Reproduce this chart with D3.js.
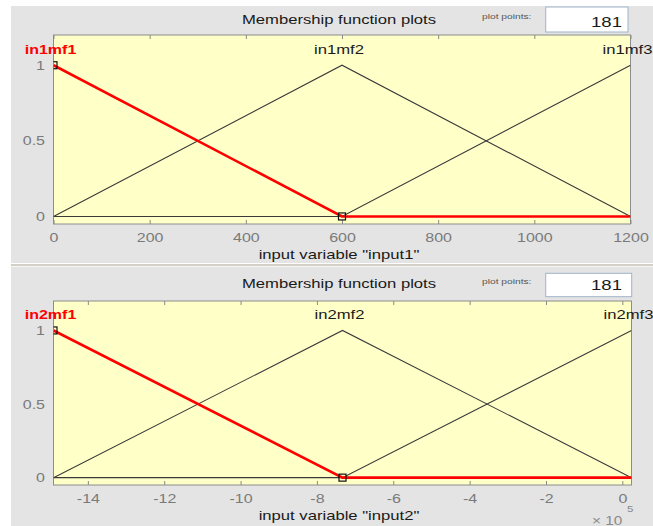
<!DOCTYPE html>
<html>
<head>
<meta charset="utf-8">
<script src="https://cdn.jsdelivr.net/npm/d3@7/dist/d3.min.js"></script>
<style>
  html, body { margin: 0; padding: 0; background: #ffffff; }
  svg { display: block; }
  text { font-family: "Liberation Sans", Arial, sans-serif; }
</style>
</head>
<body>
<svg id="chart" width="653" height="526"></svg>
<script>
// ---- data ----
const plotPoints = 181;
const yTicks = [0, 0.5, 1];
const selectedMF = 0;

const input1Name = "input1";
const input1Range = [0, 1200];
const input1Ticks = [0, 200, 400, 600, 800, 1000, 1200];
const input1MFNames = ["in1mf1", "in1mf2", "in1mf3"];
const input1MFParams = [[-600, 0, 600], [0, 600, 1200], [600, 1200, 1800]];

const input2Name = "input2";
const input2Range = [-14.9, 0.24];          // in units of 10^5
const input2Ticks = [-14, -12, -10, -8, -6, -4, -2, 0];
const input2MFNames = ["in2mf1", "in2mf2", "in2mf3"];
const input2MFParams = [[-22.47, -14.9, -7.33], [-14.9, -7.33, 0.24], [-7.33, 0.24, 7.81]];

// ---- layout ----
const SX = 1.28; // horizontal text stretch of the GUI rendering
const panels = [
  { name: input1Name, range: input1Range, ticks: input1Ticks, names: input1MFNames, params: input1MFParams,
    bg: [6, 263], plot: { x0: 53.5, x1: 630.5, y0: 35, y1: 224 },
    titleY: 24, ppY: 19, box: [545.7, 7, 82.3, 25], numY: 26.5, mfY: 54, axisTitleY: 258.5, exponent: null },
  { name: input2Name, range: input2Range, ticks: input2Ticks, names: input2MFNames, params: input2MFParams,
    bg: [267, 526], plot: { x0: 53.5, x1: 631.5, y0: 301, y1: 485 },
    titleY: 287.5, ppY: 283.5, box: [545.7, 273.3, 86, 23.4], numY: 289.5, mfY: 319, axisTitleY: 519.5, exponent: 5 }
];

const svg = d3.select("#chart");

// separator between the two panels
svg.append("rect").attr("x", 11).attr("y", 263).attr("width", 642).attr("height", 4).attr("fill", "#ffffff");
svg.append("rect").attr("x", 11).attr("y", 264).attr("width", 642).attr("height", 2.2).attr("fill", "#d4d0c8");

function stretchedText(g, x, y, str, o) {
  return g.append("text")
    .attr("transform", `translate(${x},${y}) scale(${o.sx || SX},1)`)
    .attr("text-anchor", o.anchor || "start")
    .attr("font-size", o.size)
    .attr("font-weight", o.weight || "normal")
    .attr("fill", o.fill || "#1a1a1a")
    .text(str);
}

function trimf(x, p) {
  const [a, b, c] = p;
  if (x <= a || x >= c) return (x === b) ? 1 : 0;
  return x <= b ? (x - a) / (b - a) : (c - x) / (c - b);
}

// vertices of a triangular MF within the plotted range
function mfVertices(p, range) {
  const xs = [range[0], range[1], ...p.filter(v => v > range[0] && v < range[1])];
  return Array.from(new Set(xs)).sort((a, b) => a - b).map(x => [x, trimf(x, p)]);
}

const plainNumber = d => String(d);

panels.forEach((P, pi) => {
  const g = svg.append("g");
  g.append("rect").attr("x", 11).attr("y", P.bg[0]).attr("width", 642).attr("height", P.bg[1] - P.bg[0])
    .attr("fill", "#e4e4e4");

  const x = d3.scaleLinear().domain(P.range).range([P.plot.x0, P.plot.x1]);
  const y = d3.scaleLinear().domain([-0.05, 1.2]).range([P.plot.y1, P.plot.y0]);

  // header
  stretchedText(g, 339, P.titleY, "Membership function plots", { size: 13, anchor: "middle" });
  stretchedText(g, 482, P.ppY, "plot points:", { size: 8, fill: "#555" });
  g.append("rect").attr("x", P.box[0]).attr("y", P.box[1]).attr("width", P.box[2]).attr("height", P.box[3])
    .attr("fill", "#ffffff").attr("stroke", "#9fb3c8").attr("stroke-width", 1);
  stretchedText(g, 622, P.numY, String(plotPoints), { size: 14.5, anchor: "end" });

  // plot box
  const clipId = "clip" + pi;
  g.append("clipPath").attr("id", clipId).append("rect")
    .attr("x", P.plot.x0).attr("y", P.plot.y0)
    .attr("width", P.plot.x1 - P.plot.x0).attr("height", P.plot.y1 - P.plot.y0);
  g.append("rect").attr("x", P.plot.x0).attr("y", P.plot.y0)
    .attr("width", P.plot.x1 - P.plot.x0).attr("height", P.plot.y1 - P.plot.y0)
    .attr("fill", "#ffffc8");

  // axes
  const bottom = g.append("g").attr("transform", `translate(0,${P.plot.y1})`)
    .call(d3.axisBottom(x).tickValues(P.ticks).tickSizeInner(-4).tickSizeOuter(0).tickPadding(9)
      .tickFormat(plainNumber));
  const top = g.append("g").attr("transform", `translate(0,${P.plot.y0})`)
    .call(d3.axisTop(x).tickValues(P.ticks).tickSizeInner(-4).tickSizeOuter(0).tickFormat(""));
  const left = g.append("g").attr("transform", `translate(${P.plot.x0},0)`)
    .call(d3.axisLeft(y).tickValues(yTicks).tickSize(0).tickPadding(8.5).tickFormat(plainNumber));
  [bottom, top, left].forEach(a => {
    a.select(".domain").remove();
    a.selectAll("line").attr("stroke", "#8a8a8a");
    a.selectAll("text").attr("font-size", 12.5).attr("fill", "#7a7a7a")
      .attr("font-family", "Liberation Sans, Arial, sans-serif");
  });
  bottom.selectAll("text").attr("transform", `scale(${SX},1)`);
  left.selectAll("text").attr("x", -8.5 / SX).attr("transform", `scale(${SX},1)`);

  g.append("rect").attr("x", P.plot.x0).attr("y", P.plot.y0)
    .attr("width", P.plot.x1 - P.plot.x0).attr("height", P.plot.y1 - P.plot.y0)
    .attr("fill", "none").attr("stroke", "#8c8c8c").attr("stroke-width", 1);

  // membership functions
  const line = d3.line().x(d => x(d[0])).y(d => y(d[1]));
  const lines = g.append("g").attr("clip-path", `url(#${clipId})`);
  P.params.forEach((p, i) => {
    if (i === selectedMF) return;
    lines.append("path").attr("d", line(mfVertices(p, P.range)))
      .attr("fill", "none").attr("stroke", "#3a3a3a").attr("stroke-width", 1.1);
  });
  const sel = P.params[selectedMF];
  lines.append("path").attr("d", line(mfVertices(sel, P.range)))
    .attr("fill", "none").attr("stroke", "#ff0000").attr("stroke-width", 2.6);
  // handles on the selected MF's parameters
  sel.filter(v => v >= P.range[0] && v <= P.range[1]).forEach(v => {
    lines.append("rect").attr("x", x(v) - 3.5).attr("y", y(trimf(v, sel)) - 3.5)
      .attr("width", 7).attr("height", 7)
      .attr("fill", "none").attr("stroke", "#111").attr("stroke-width", 1.2);
  });

  // MF labels at the peaks
  P.params.forEach((p, i) => {
    const peak = Math.min(Math.max(p[1], P.range[0]), P.range[1]);
    stretchedText(g, x(peak) - 3, P.mfY, P.names[i], {
      size: i === selectedMF ? 12.5 : 13, anchor: "middle",
      weight: i === selectedMF ? "bold" : "normal",
      fill: i === selectedMF ? "#ff0000" : "#1a1a1a"
    });
  });

  // axis title
  stretchedText(g, 339, P.axisTitleY, `input variable "${P.name}"`, { size: 13, anchor: "middle" });

  // axis exponent
  if (P.exponent !== null) {
    stretchedText(g, 592, 524.5, "× 10", { size: 12, fill: "#8a8a8a" });
    stretchedText(g, 627, 512, String(P.exponent), { size: 9, fill: "#8a8a8a" });
  }
});
</script>
</body>
</html>
